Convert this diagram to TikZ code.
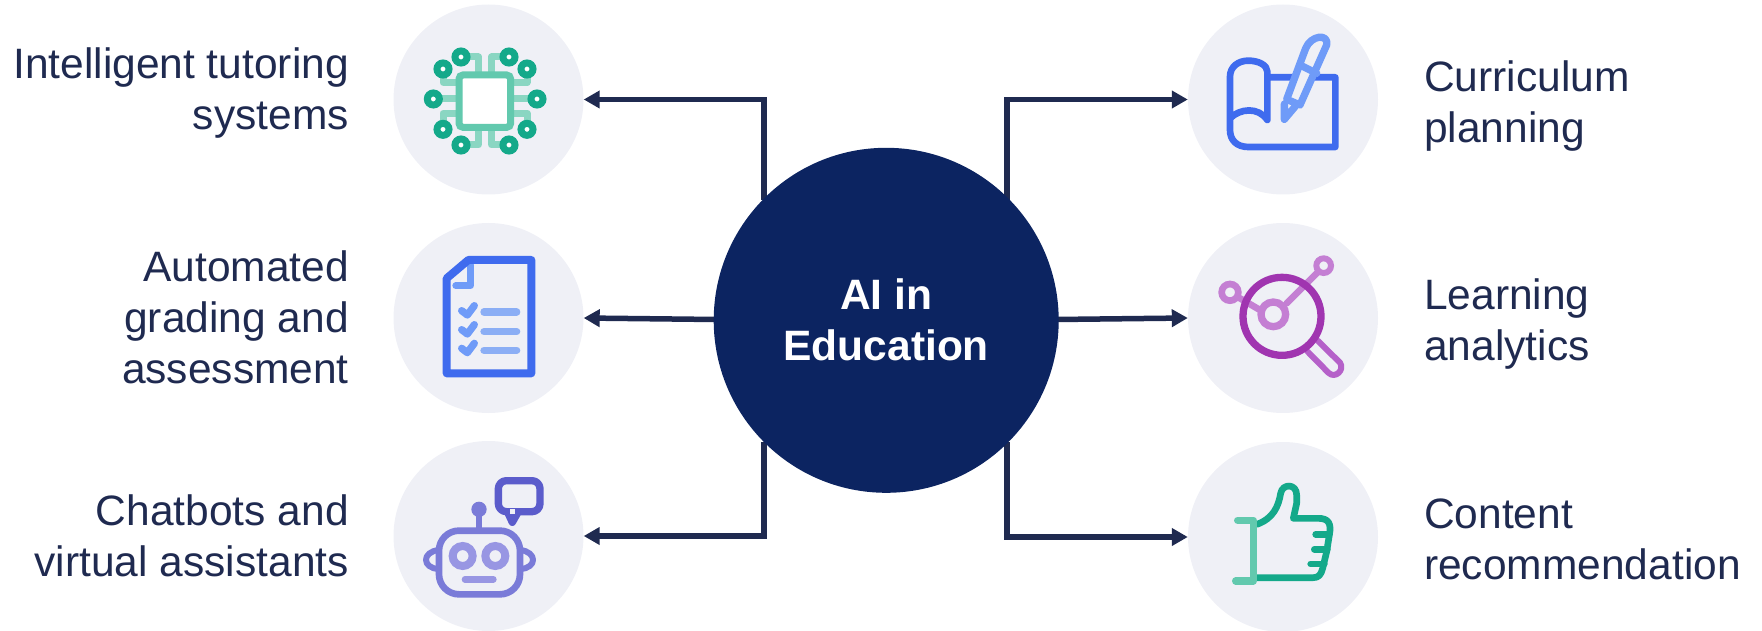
\documentclass[tikz,border=0pt]{standalone}
\usepackage{fontspec}
\setmainfont{Liberation Sans}
\usetikzlibrary{arrows.meta}
\definecolor{navy}{HTML}{0C2461}
\definecolor{ink}{HTML}{1F2A50}
\definecolor{disc}{HTML}{EFF0F6}
\definecolor{gdark}{HTML}{14A98A}
\definecolor{gmid}{HTML}{62C9AE}
\definecolor{glight}{HTML}{8AD6C2}
\definecolor{bdark}{HTML}{3F6BEE}
\definecolor{bmid}{HTML}{6F9BF8}
\definecolor{blight}{HTML}{8BAEF5}
\definecolor{vdark}{HTML}{5B5CCB}
\definecolor{vmid}{HTML}{7A7BD8}
\definecolor{vlight}{HTML}{9896E3}
\definecolor{pdark}{HTML}{A035B0}
\definecolor{pmid}{HTML}{B561C9}
\definecolor{plight}{HTML}{C47FD3}
\tikzset{
  discnode/.style={circle,fill=disc,minimum size=190pt,inner sep=0pt},
  hub/.style={circle,fill=navy,minimum size=345pt,inner sep=0pt,text=white,align=center,font=\fontsize{42.5}{51}\selectfont\bfseries},
  lbl/.style={text=ink,inner sep=0pt,font=\fontsize{42.5}{51}\selectfont},
  lleft/.style={lbl,anchor=east,align=right},
  lright/.style={lbl,anchor=west,align=left},
  conn/.style={draw=ink,line width=5.5pt,-{Triangle[length=16pt,width=17pt]},line join=miter},
  ic/.style={x=0.33333pt,y=-0.33333pt},
  st/.style={line cap=round,line join=round,line width=#1*0.33333pt}
}
\begin{document}
\begin{tikzpicture}[x=1pt,y=-1pt]
\useasboundingbox (0,0) rectangle (1762,631);
\node[discnode] (c1) at (488.5,99.5) {};
\node[discnode] (c2) at (488.5,318) {};
\node[discnode] (c3) at (488.5,536) {};
\node[discnode] (c4) at (1283,99.5) {};
\node[discnode] (c5) at (1283,318) {};
\node[discnode] (c6) at (1283,537) {};
\coordinate (s1) at (764,200);
\coordinate (s2) at (716,319.5);
\coordinate (s3) at (764,442);
\coordinate (s4) at (1007,200);
\coordinate (s5) at (1056,319.5);
\coordinate (s6) at (1007,442);
\draw[conn] (s1) |- (c1.east);
\draw[conn] (s2) -- (c2.east);
\draw[conn] (s3) |- (c3.east);
\draw[conn] (s4) |- (c4.west);
\draw[conn] (s5) -- (c5.west);
\draw[conn] (s6) |- (c6.west);
\node[hub] (h) at (886.2,320.3) {AI in\\Education};
\node[lleft] (t1) at (349,93) {Intelligent tutoring\\systems};
\node[lleft] (t2) at (349,317) {Automated\\grading and\\assessment};
\node[lleft] (t3) at (349,536) {Chatbots and\\virtual assistants};
\node[lright] (t4) at (1424,106) {Curriculum\\planning};
\node[lright] (t5) at (1424,324) {Learning\\analytics};
\node[lright] (t6) at (1424,539) {Content\\recommendation};
% chip
\begin{scope}[shift={(390,0)},ic]
\draw[glight,st=21] (240,171)-|(265,215) (330,171)-|(305,215)
 (159,220)|-(197,247) (411,220)|-(372,247)
 (150,297)--(197,297) (420,297)--(372,297)
 (159,370)|-(197,340) (411,370)|-(372,340)
 (240,435)-|(265,392) (330,435)-|(305,392);
\draw[gmid,fill=white,line width=7pt,rounded corners=4pt] (207,225) rectangle (362,382);
\foreach \p in {(213,171),(357,171),(159,207),(411,207),(130,297),(441,297),(159,388),(411,388),(213,435),(357,435)}
  \draw[gdark,fill=white,line width=7pt] \p circle[radius=18];
\end{scope}
% document
\begin{scope}[shift={(390,220)},ic]
\draw[bmid,st=20] (242,135)--(242,197)--(197,197);
\draw[bdark,st=24] (170,175)--(235,120)--(424,120)--(424,460)--(170,460)--cycle;
\foreach \d in {0,57,113}{
 \draw[bmid,st=22] (215,{272+\d})--(232,{285+\d})--(253,{257+\d});
}
\foreach \d in {276,335,391}{\draw[blight,st=22] (282,\d)--(380,\d);}
\end{scope}
% robot
\begin{scope}[shift={(390,435)},ic]
\draw[vdark,st=22,rounded corners=8pt] (325,137) rectangle (450,230);
\draw[vdark,st=22,fill=disc] (352,230)--(367,262)--(385,230);
\draw[draw=disc,line width=5pt] (361,230)--(375,230);
\draw[vmid,st=20] (267,223)--(267,287);
\fill[vmid] (267,223) circle[radius=23];
\draw[vmid,st=18] (147,345) .. controls (95,350) and (95,400) .. (147,402);
\draw[vmid,st=18] (390,345) .. controls (442,350) and (442,400) .. (390,402);
\draw[vmid,st=20,fill=disc,rounded corners=20pt] (147,287) rectangle (390,478);
\draw[vlight,line width=8pt] (218,363) circle[radius=30];
\draw[vlight,line width=8pt] (316,363) circle[radius=30];
\draw[vlight,st=20] (225,433)--(310,433);
\end{scope}
% book and pen
\begin{scope}[shift={(1185,0)},ic]
\draw[bdark,st=20] (247,232)--(451,232)--(451,441)--(190,441)
 .. controls (155,441) and (135,420) .. (135,390)--(135,230)
 .. controls (135,200) and (160,182) .. (190,182)
 .. controls (220,182) and (247,195) .. (247,215)--(247,360)
 .. controls (220,320) and (165,325) .. (135,355);
\draw[bmid,st=22] (298,312)--(298,358)--(330,320);
\draw[bmid,st=22,fill=disc] (305,298)--(362,145) .. controls (378,105) and (432,100) .. (425,135)--(345,315)--cycle;
\draw[bmid,st=22] (345,195)--(395,220);
\end{scope}
% analytics
\begin{scope}[shift={(1185,220)},ic]
\draw[plight,st=20] (165,235)--(225,270) (305,250)--(400,155);
\draw[plight,line width=6.7pt] (135,217) circle[radius=25];
\draw[plight,line width=6pt] (416,137) circle[radius=22];
\draw[plight,line width=7.3pt] (265,283) circle[radius=37];
\draw[pmid,st=18] (398,362)--(465,428) .. controls (480,450) and (450,478) .. (430,458)--(368,395);
\draw[pdark,line width=7.3pt] (291,289) circle[radius=117];
\end{scope}
% thumb
\begin{scope}[shift={(1185,435)},ic]
\draw[gdark,st=20] (216,268) .. controls (265,250) and (280,215) .. (287,175)
 .. controls (292,145) and (335,145) .. (335,180)--(335,205)--(325,250)--(400,250)
 .. controls (430,250) and (440,265) .. (433,300)--(425,350)--(413,400)
 .. controls (408,420) and (400,428) .. (385,428)--(216,428);
\draw[gdark,st=20] (392,298)--(433,298) (388,343)--(427,343) (377,387)--(418,387);
\draw[gmid,st=22] (158,256)--(205,256)--(205,438)--(152,438);
\end{scope}
\end{tikzpicture}
\end{document}
